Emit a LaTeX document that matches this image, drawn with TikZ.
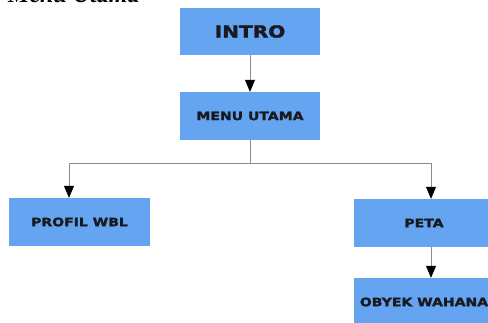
\documentclass[tikz,border=0pt]{standalone}
\usepackage{fontspec}
\usepackage{tikz}
\usetikzlibrary{arrows.meta}
\setmainfont{Liberation Serif}
\newfontfamily\boxfont{DejaVu Sans}[FakeStretch=1.22, FakeBold=2]
\definecolor{boxblue}{RGB}{100,164,240}
\definecolor{boxtext}{RGB}{24,26,32}

\begin{document}
\begin{tikzpicture}[x=1pt, y=-1pt,
	menubox/.style={fill=boxblue, minimum width=140pt, minimum height=48pt, inner sep=0pt, text=boxtext, font=\boxfont\bfseries\fontsize{11.5}{12}\selectfont},
	link/.style={draw=black!45, line width=0.8pt, -{Triangle[width=10pt, length=12pt, color=black]}}]
	\useasboundingbox (0,0) rectangle (488,322);
	\node[anchor=base west, inner sep=0pt, font=\bfseries\itshape\fontsize{24}{26}\selectfont] (title) at (8,2) {Menu Utama};
	
	\node[menubox, minimum height=47pt, font=\boxfont\bfseries\fontsize{16.5}{18}\selectfont] (intro) at (250,31.5) {INTRO};
	\node[menubox] (menu) at (250,116) {MENU UTAMA};
	\node[menubox, minimum width=141pt] (profil) at (79.5,222) {PROFIL WBL};
	\node[menubox] (peta) at (424,223) {PETA};
	\node[menubox] (obyek) at (424,302) {OBYEK WAHANA};
	
	\coordinate (split) at (250,163);
	\draw[link] (intro) -- (menu);
	\draw[link] (menu.south) -- (split) -| ([xshift=-10.5pt]profil.north);
	\draw[link] (split) -| ([xshift=7pt]peta.north);
	\draw[link] ([xshift=7pt]peta.south) -- ([xshift=7pt]obyek.north);
\end{tikzpicture}
\end{document}
